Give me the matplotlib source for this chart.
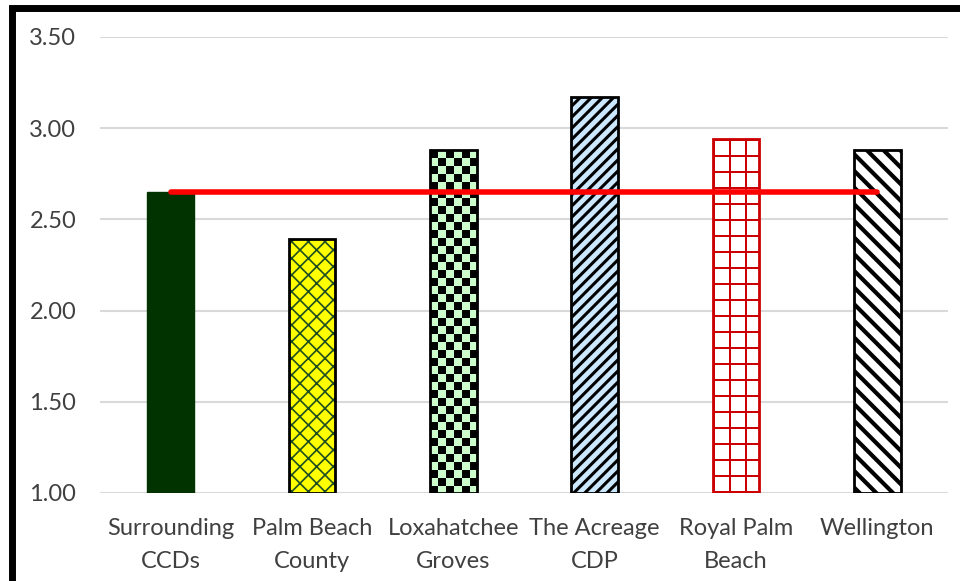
import matplotlib
matplotlib.use("Agg")
import numpy as np
import matplotlib.pyplot as plt
from matplotlib.patches import Rectangle
from matplotlib.colors import to_rgba

categories = ["Surrounding\nCCDs", "Palm Beach\nCounty", "Loxahatchee\nGroves", "The Acreage\nCDP", "Royal Palm\nBeach", "Wellington"]
values = [2.65, 2.39, 2.88, 3.17, 2.94, 2.88]
reference = [2.65, 2.65, 2.65, 2.65, 2.65, 2.65]
yticks = [1.00, 1.50, 2.00, 2.50, 3.00, 3.50]

fills = ["#003300", "#FFFF00", "#CCFFCC", "#CCE8FF", "#FFFFFF", "#FFFFFF"]
patterns = [None, "hatch:xx", "checker", "hatch:///", "grid", "hatch:\\\\"]
pattern_colors = [None, "#1F4E1F", "#000000", "#000000", "#CC0000", "#000000"]
outline = ["#003300", "#000000", "#000000", "#000000", "#CC0000", "#000000"]
hatch_lw = [1, 1.2, 1, 2.2, 1, 3.0]

plt.rcParams['font.family'] = ['Lato', 'DejaVu Sans']
fig = plt.figure(figsize=(9.6, 5.81), dpi=100)
ax = fig.add_axes([0.104, 0.1515, 0.8835, 0.785])
ax.set_xlim(-0.5, len(categories) - 0.5)
ax.set_ylim(1.0, 3.5)


def texture(patch, kind, fg, bg, cell):
    x0, y0 = patch.get_x(), patch.get_y()
    x1, y1 = x0 + patch.get_width(), y0 + patch.get_height()
    (px0, py0), (px1, py1) = ax.transData.transform([(x0, y0), (x1, y1)])
    W, H = int(round(px1 - px0)), int(round(py1 - py0))
    yy, xx = np.mgrid[0:H, 0:W]
    if kind == "checker":
        mask = ((yy // cell + xx // cell) % 2) == 0
    else:
        mask = ((xx % cell) < 2) | (((H - 1 - yy) % cell) < 2)
    img = np.empty((H, W, 4))
    img[:] = to_rgba(bg)
    img[mask] = to_rgba(fg)
    im = ax.imshow(img, extent=(x0, x1, y0, y1), origin='upper',
                   interpolation='nearest', aspect='auto', zorder=2.5)
    im.set_clip_path(patch)


x = list(range(len(categories)))
w = 0.33
for i in x:
    pat = patterns[i]
    if pat is None:
        ax.bar(i, values[i] - 1.0, bottom=1.0, width=w, color=fills[i],
               edgecolor=outline[i], linewidth=1, zorder=2)
        continue
    if pat.startswith("hatch:"):
        with plt.rc_context({'hatch.linewidth': hatch_lw[i]}):
            ax.bar(i, values[i] - 1.0, bottom=1.0, width=w, color=fills[i],
                   hatch=pat[6:], edgecolor=pattern_colors[i], linewidth=0, zorder=2)
    else:
        bars = ax.bar(i, values[i] - 1.0, bottom=1.0, width=w, color=fills[i],
                      linewidth=0, zorder=2)
        texture(bars[0], pat, pattern_colors[i], fills[i], 8 if pat == "checker" else 16)
    ax.bar(i, values[i] - 1.0, bottom=1.0, width=w, facecolor='none',
           edgecolor=outline[i], linewidth=2, zorder=3)

ax.plot(x, reference, color='#FF0000', lw=4, solid_capstyle='round', zorder=4)

ax.set_xlim(-0.5, len(categories) - 0.5)
ax.set_ylim(1.0, 3.5)
ax.set_yticks(yticks)
ax.set_yticklabels([f"{t:.2f}" for t in yticks])
ax.set_xticks(x)
ax.set_xticklabels(categories, linespacing=1.7)
ax.tick_params(axis='both', length=0, labelsize=17, colors='#404040')
ax.tick_params(axis='y', pad=17)
ax.tick_params(axis='x', pad=18)
ax.yaxis.grid(True, color='#D9D9D9', lw=1.5, zorder=0)
ax.set_axisbelow(True)
for s in ax.spines.values():
    s.set_visible(False)

fig.patches.append(Rectangle((12/960, -0.1), 1.2, 1.1 - 8/581, transform=fig.transFigure,
                             fill=False, edgecolor='black', lw=5, zorder=10))

fig.savefig("out.png", dpi=100)
